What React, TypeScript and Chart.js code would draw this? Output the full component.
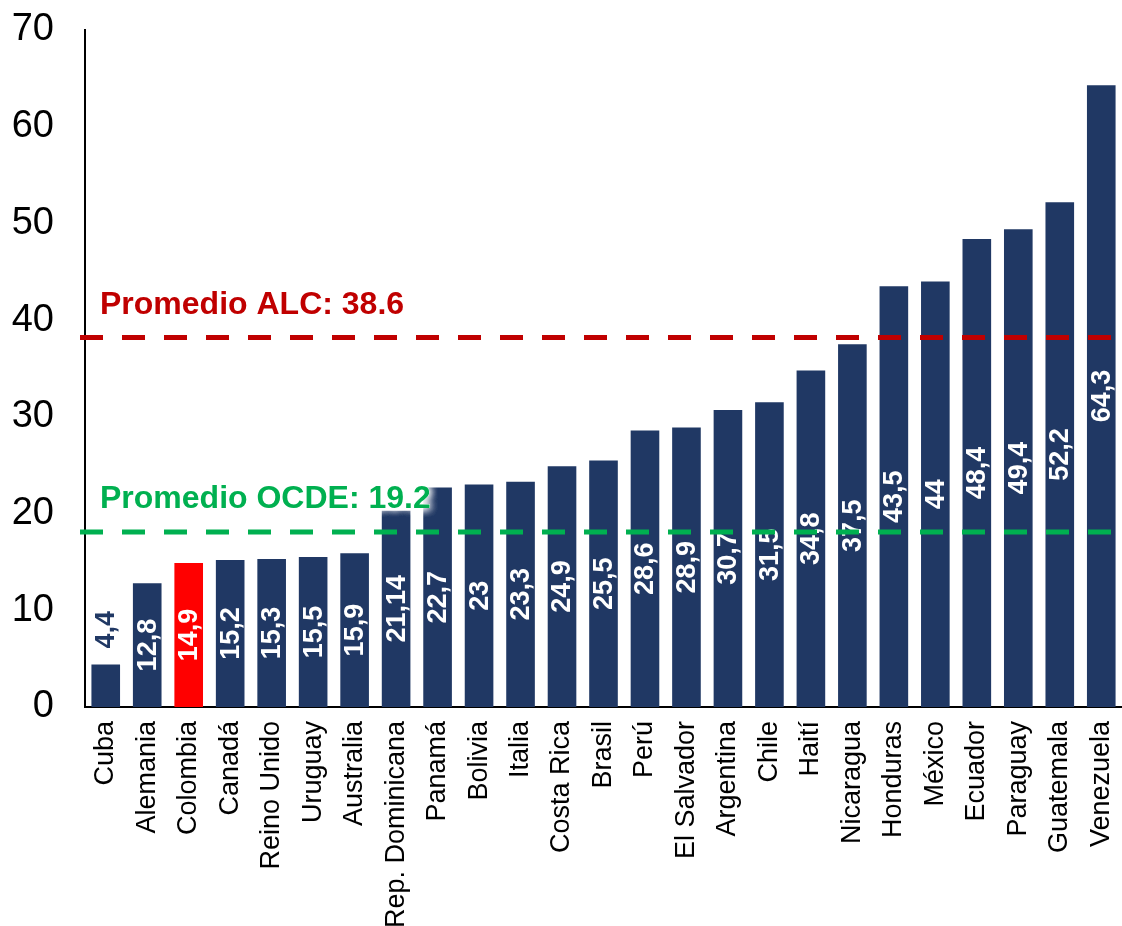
import React, { useEffect, useRef } from "react";
import { Chart, registerables } from "chart.js";

Chart.register(...registerables);

const countries = [
  "Cuba", "Alemania", "Colombia", "Canadá", "Reino Unido", "Uruguay", "Australia",
  "Rep. Dominicana", "Panamá", "Bolivia", "Italia", "Costa Rica", "Brasil", "Perú",
  "El Salvador", "Argentina", "Chile", "Haití", "Nicaragua", "Honduras", "México",
  "Ecuador", "Paraguay", "Guatemala", "Venezuela",
];
const barValues = [
  4.4, 12.8, 14.9, 15.2, 15.3, 15.5, 15.9, 20.3, 22.7, 23, 23.3, 24.9, 25.5, 28.6,
  28.9, 30.7, 31.5, 34.8, 37.5, 43.5, 44, 48.4, 49.4, 52.2, 64.3,
];
const valueLabels = [
  "4,4", "12,8", "14,9", "15,2", "15,3", "15,5", "15,9", "21,14", "22,7", "23", "23,3",
  "24,9", "25,5", "28,6", "28,9", "30,7", "31,5", "34,8", "37,5", "43,5", "44", "48,4",
  "49,4", "52,2", "64,3",
];
const highlightCountry = "Colombia";
const alcLineValue = 38.2;
const alcText = "Promedio ALC: 38.6";
const ocdeLineValue = 18.1;
const ocdeText = "Promedio OCDE: 19.2";
const yMin = 0;
const yMax = 70;
const yStep = 10;

const NAVY = "#203864";
const RED = "#FF0000";
const ALC_COLOR = "#C00000";
const OCDE_COLOR = "#00B050";

const valueLabelPlugin = {
  id: "valueLabels",
  afterDatasetsDraw(chart: any) {
    const ctx = chart.ctx;
    const meta = chart.getDatasetMeta(0);
    ctx.save();
    ctx.font = "bold 27px Arial, 'Liberation Sans', sans-serif";
    ctx.textBaseline = "middle";
    meta.data.forEach((bar: any, i: number) => {
      const { x, y, base } = bar.getProps(["x", "y", "base"], true);
      const text = valueLabels[i];
      const w = ctx.measureText(text).width;
      const h = base - y;
      ctx.save();
      if (w + 10 > h) {
        ctx.translate(x, y - 16);
        ctx.rotate(-Math.PI / 2);
        ctx.textAlign = "left";
        ctx.fillStyle = NAVY;
      } else {
        ctx.translate(x, (y + base) / 2);
        ctx.rotate(-Math.PI / 2);
        ctx.textAlign = "center";
        ctx.fillStyle = "#FFFFFF";
      }
      ctx.fillText(text, 0, 1);
      ctx.restore();
    });
    ctx.restore();
  },
};

const avgLinesPlugin = {
  id: "avgLines",
  afterDraw(chart: any) {
    const ctx = chart.ctx;
    const yScale = chart.scales.y;
    const area = chart.chartArea;
    const lines = [
      { v: alcLineValue, color: ALC_COLOR, text: alcText, halo: false },
      { v: ocdeLineValue, color: OCDE_COLOR, text: ocdeText, halo: true },
    ];
    lines.forEach((l) => {
      const py = yScale.getPixelForValue(l.v);
      ctx.save();
      ctx.strokeStyle = l.color;
      ctx.lineWidth = 5;
      ctx.setLineDash([23, 19]);
      ctx.beginPath();
      ctx.moveTo(area.left - 5, py);
      ctx.lineTo(area.right, py);
      ctx.stroke();
      ctx.restore();

      ctx.save();
      ctx.font = "bold 32px Arial, 'Liberation Sans', sans-serif";
      ctx.textAlign = "left";
      ctx.textBaseline = "alphabetic";
      const tx = area.left + 15;
      const ty = py - 24;
      if (l.halo) {
        ctx.shadowColor = "rgba(255,255,255,1)";
        ctx.shadowBlur = 8;
        ctx.fillStyle = "#FFFFFF";
        for (let k = 0; k < 4; k++) ctx.fillText(l.text, tx, ty);
        ctx.shadowBlur = 0;
        ctx.shadowColor = "transparent";
      }
      ctx.fillStyle = l.color;
      ctx.fillText(l.text, tx, ty);
      ctx.restore();
    });
  },
};

export default function App() {
  const canvasRef = useRef<HTMLCanvasElement | null>(null);

  useEffect(() => {
    document.body.style.margin = "0";
    const canvas = canvasRef.current;
    if (!canvas) return;
    const chart = new Chart(canvas, {
      type: "bar",
      data: {
        labels: countries,
        datasets: [
          {
            data: barValues,
            backgroundColor: countries.map((c) => (c === highlightCountry ? RED : NAVY)),
            borderWidth: 0,
            barPercentage: 0.69,
            categoryPercentage: 1,
          },
        ],
      },
      options: {
        responsive: false,
        animation: false,
        events: [],
        layout: { padding: { top: 30, right: 0, left: 0, bottom: 0 } },
        plugins: {
          legend: { display: false },
          tooltip: { enabled: false },
          title: { display: false },
        },
        scales: {
          x: {
            grid: { display: false, drawTicks: false },
            border: { display: true, color: "#000000", width: 2 },
            ticks: {
              color: "#000000",
              font: { family: "Arial, 'Liberation Sans', sans-serif", size: 27 },
              minRotation: 90,
              maxRotation: 90,
              autoSkip: false,
              padding: 14,
            },
            afterFit: (s: any) => {
              s.height = 219;
              s.paddingLeft = 0;
              s.paddingRight = 0;
            },
          },
          y: {
            min: yMin,
            max: yMax,
            grid: { display: false, drawTicks: false },
            border: { display: true, color: "#000000", width: 2 },
            ticks: {
              stepSize: yStep,
              color: "#000000",
              font: { family: "Arial, 'Liberation Sans', sans-serif", size: 38 },
              padding: 31,
            },
            afterFit: (s: any) => {
              s.width = 85;
              s.paddingTop = 0;
              s.paddingBottom = 0;
            },
          },
        },
      },
      plugins: [valueLabelPlugin, avgLinesPlugin],
    });
    return () => chart.destroy();
  }, []);

  return (
    <div style={{ width: 1122, height: 926 }}>
      <canvas ref={canvasRef} width={1122} height={926} style={{ display: "block" }} />
    </div>
  );
}
